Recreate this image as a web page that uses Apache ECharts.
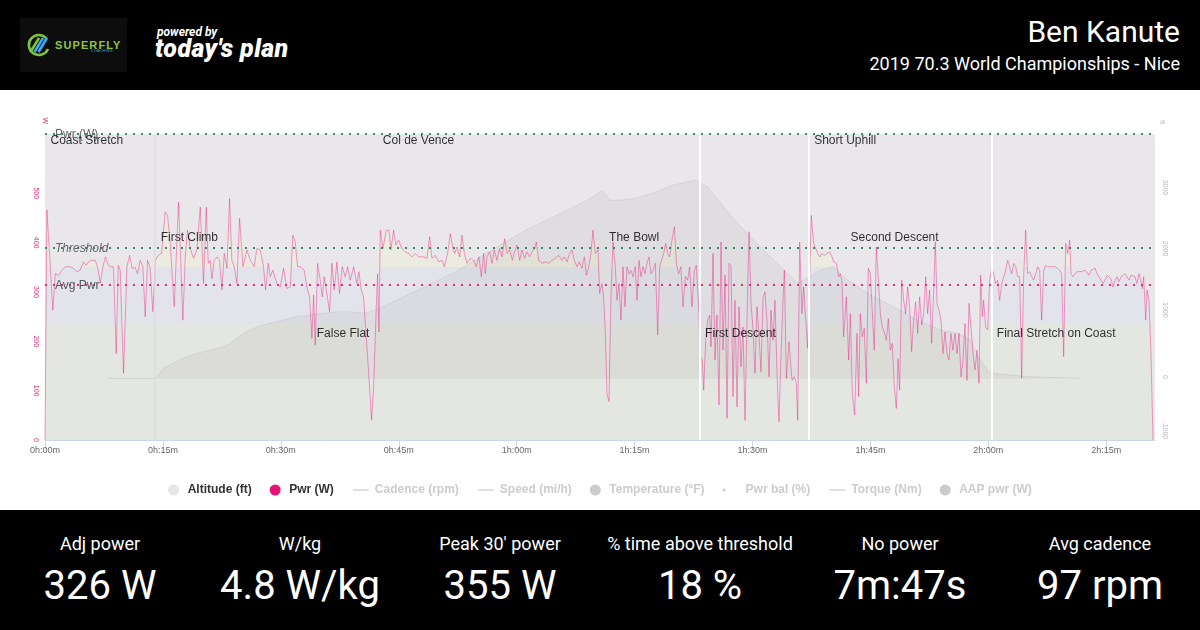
<!DOCTYPE html>
<html>
<head>
<meta charset="utf-8">
<script src="https://cdn.jsdelivr.net/npm/echarts@6/dist/echarts.min.js"></script>
<style>
html,body{margin:0;padding:0;width:1200px;height:630px;overflow:hidden;background:#fff;font-family:Roboto,'Liberation Sans',Arial,sans-serif;}
#header{position:absolute;left:0;top:0;width:1200px;height:90px;background:#000;}
#chart{position:absolute;left:0;top:90px;width:1200px;height:420px;background:#fff;}
#footer{position:absolute;left:0;top:510px;width:1200px;height:120px;background:#000;color:#fff;}
.stat{position:absolute;top:0;width:200px;height:120px;}
.stat .lab{position:absolute;left:0;top:23px;width:200px;text-align:center;font-size:18px;line-height:22px;}
.stat .val{position:absolute;left:0;top:53px;width:200px;text-align:center;font-size:40px;line-height:46px;}
#athlete{position:absolute;right:20px;top:14px;font-size:30px;line-height:36px;color:#fff;white-space:nowrap;}
#event{position:absolute;right:20px;top:53px;font-size:18px;line-height:22px;color:#fff;white-space:nowrap;}
#powered{position:absolute;left:157px;top:25px;font-size:12px;line-height:14px;font-weight:700;font-style:italic;color:#fff;white-space:nowrap;}
#tp{position:absolute;left:155px;top:35px;font-size:25px;line-height:28px;font-weight:900;font-style:italic;letter-spacing:0.4px;color:#fff;white-space:nowrap;}
</style>
</head>
<body>
<div id="header">
  <svg width="107" height="54" style="position:absolute;left:20px;top:18px" xmlns="http://www.w3.org/2000/svg">
    <rect width="107" height="54" fill="#0d0d0d"/>
    <path d="M26.5,20.5 A10,10 0 1,0 28,31" fill="none" stroke="#7cc143" stroke-width="2.6"/>
    <path d="M10.5,34 L19,20" stroke="#7cc143" stroke-width="2.6"/>
    <path d="M14.5,34 L23,20" stroke="#3fa9f5" stroke-width="2.6"/>
    <path d="M18.5,34 L27,20" stroke="#3fa9f5" stroke-width="2.6"/>
    <text x="35" y="30.5" font-family="'Liberation Sans',Arial,sans-serif" font-weight="bold" font-size="11" fill="#8dc63f" letter-spacing="1.1">SUPERFLY</text>
    <text x="71" y="34" font-family="'Liberation Sans',Arial,sans-serif" font-size="3.6" fill="#3fa9f5" letter-spacing="0.3">COACHING</text>
  </svg>
  <div id="powered">powered by</div>
  <div id="tp">today's plan</div>
  <div id="athlete">Ben Kanute</div>
  <div id="event">2019 70.3 World Championships - Nice</div>
</div>
<div id="chart"></div>
<div id="footer"></div>
<script>
// ---------- data ----------
const statLabels = ['Adj power', 'W/kg', "Peak 30' power", '% time above threshold', 'No power', 'Avg cadence'];
const statValues = ['326 W', '4.8 W/kg', '355 W', '18 %', '7m:47s', '97 rpm'];

const xTickValues = [0, 15, 30, 45, 60, 75, 90, 105, 120, 135];
const xTickLabels = ['0h:00m', '0h:15m', '0h:30m', '0h:45m', '1h:00m', '1h:15m', '1h:30m', '1h:45m', '2h:00m', '2h:15m'];
const rideMinutes = 141.2;
const pwrTicks = [0, 100, 200, 300, 400, 500];
const altTicks = [-1000, 0, 1000, 2000, 3000];
const pwrAxisMax = 620;
const altAxisMin = -1000;
const altAxisMax = 4000;
const threshold = 390;
const avgPwr = 314;

const segNames = ['Coast Stretch', 'First Climb', 'False Flat', 'Col de Vence', 'The Bowl', 'First Descent', 'Short Uphill', 'Second Descent', 'Final Stretch on Coast'];
const segStarts = [0, 14.02, 33.87, 42.27, 71.06, 83.27, 97.14, 101.77, 120.38];
const lapLines = [14.02, 83.27, 97.14, 120.38];

const legendNames = ['Altitude (ft)', 'Pwr (W)', 'Cadence (rpm)', 'Speed (mi/h)', 'Temperature (°F)', 'Pwr bal (%)', 'Torque (Nm)', 'AAP pwr (W)'];

// [minutes, ft]
const altPoints = [[7.91,8],[14.02,8],[14.27,34],[15.04,172],[16.31,253],[17.58,335],[19.36,417],[21.04,471],[22.67,525],[23.56,580],[25.22,743],[27.00,851],[28.65,907],[30.31,961],[32.08,1015],[33.74,1042],[35.39,1070],[37.17,1096],[38.83,1096],[40.48,1070],[41.37,1096],[43.03,1178],[44.81,1288],[46.46,1397],[47.74,1467],[51.93,1729],[56.26,2056],[60.46,2383],[64.66,2649],[68.98,2917],[70.89,3074],[71.91,2917],[73.18,2917],[75.34,2954],[77.38,3036],[79.92,3167],[81.70,3221],[82.72,3248],[84.25,3139],[85.90,2872],[88.07,2546],[90.10,2268],[92.27,1995],[94.43,1729],[95.71,1565],[97.35,1668],[98.63,1778],[100.28,1832],[101.55,1668],[104.61,1397],[107.92,1178],[110.97,961],[113.89,797],[116.06,748],[117.71,634],[118.98,307],[120.26,90],[122.80,62],[124.97,34],[131.71,8]];

// [minutes, W]
const pwrPoints = [[0,0],[0.24,466],[0.58,378],[1.00,263],[1.30,337],[1.72,334],[2.15,344],[2.57,351],[2.78,354],[3.21,351],[3.63,348],[4.05,341],[4.48,344],[4.90,361],[5.24,354],[5.54,361],[5.96,364],[6.39,364],[6.73,348],[7.02,317],[7.36,351],[7.70,371],[8.04,354],[8.38,351],[8.72,351],[9.06,175],[9.31,354],[9.57,344],[9.99,135],[10.42,351],[10.76,374],[11.09,347],[11.43,351],[11.77,337],[12.11,364],[12.45,351],[12.75,250],[13.04,364],[13.38,348],[13.72,260],[14.06,364],[14.40,374],[14.83,378],[15.08,381],[15.29,462],[15.59,455],[15.93,398],[16.44,270],[16.99,482],[17.54,243],[17.84,371],[18.13,425],[18.47,388],[18.90,368],[19.32,385],[19.75,472],[20.17,317],[20.51,472],[20.76,358],[21.02,364],[21.23,327],[21.53,364],[21.87,371],[22.21,364],[22.50,304],[22.80,378],[23.14,348],[23.48,489],[23.77,364],[24.07,351],[24.41,317],[24.75,449],[25.18,351],[25.68,385],[26.11,364],[26.61,351],[26.96,388],[27.38,385],[27.80,351],[28.06,304],[28.40,358],[28.65,331],[28.99,344],[29.50,317],[29.92,310],[30.35,348],[30.77,307],[31.20,310],[31.53,415],[31.83,401],[32.13,351],[32.55,351],[32.98,344],[33.32,310],[33.66,290],[33.95,206],[34.17,294],[34.38,192],[34.67,358],[35.01,324],[35.27,290],[35.52,331],[35.86,297],[36.20,260],[36.50,358],[36.79,304],[37.13,361],[37.47,297],[37.81,351],[38.19,331],[38.49,351],[38.83,324],[39.26,351],[39.68,317],[39.93,341],[40.23,304],[40.53,290],[40.95,189],[41.29,108],[41.54,40],[41.80,108],[42.14,270],[42.31,337],[42.48,219],[42.65,425],[42.99,388],[43.41,425],[43.75,425],[44.00,385],[44.34,425],[44.64,395],[44.98,405],[45.40,388],[45.83,381],[46.25,378],[46.67,371],[47.10,378],[47.52,371],[48.16,371],[48.59,368],[48.93,412],[49.22,368],[49.65,374],[50.07,361],[50.50,364],[50.79,351],[51.22,378],[51.56,418],[51.85,391],[52.11,378],[52.40,391],[52.74,371],[53.04,415],[53.34,378],[53.68,358],[54.10,368],[54.53,364],[54.86,351],[55.20,371],[55.50,331],[55.80,378],[56.01,337],[56.22,371],[56.56,381],[56.86,358],[57.15,385],[57.49,364],[57.83,388],[58.13,371],[58.47,408],[58.77,378],[59.11,385],[59.45,364],[59.74,381],[60.04,395],[60.38,364],[60.67,385],[61.01,368],[61.31,381],[61.65,371],[61.95,381],[62.29,388],[62.50,401],[62.80,364],[63.22,358],[63.64,361],[64.07,358],[64.49,364],[64.92,368],[65.34,374],[65.76,364],[66.06,371],[66.40,361],[66.74,378],[67.04,385],[67.33,364],[67.67,351],[67.97,361],[68.31,348],[68.61,371],[68.86,334],[69.16,351],[69.45,378],[69.71,425],[70.00,378],[70.34,385],[70.56,297],[70.85,317],[71.06,290],[71.28,216],[71.49,94],[71.74,78],[72.00,297],[72.25,401],[72.55,351],[72.76,283],[73.01,317],[73.27,243],[73.52,351],[73.78,270],[74.03,351],[74.29,337],[74.54,344],[74.80,331],[75.09,351],[75.31,283],[75.56,364],[75.81,331],[76.07,351],[76.32,337],[76.58,358],[76.83,371],[77.09,337],[77.34,344],[77.64,358],[77.94,213],[78.19,351],[78.44,364],[78.70,378],[78.95,398],[79.21,378],[79.46,371],[79.76,405],[80.06,432],[80.31,358],[80.61,337],[80.90,351],[81.16,270],[81.46,331],[81.75,324],[82.01,351],[82.30,270],[82.60,344],[82.85,354],[83.15,270],[83.36,169],[83.62,162],[83.79,101],[84.04,202],[84.30,243],[84.55,253],[84.72,189],[84.98,378],[85.23,162],[85.48,253],[85.74,71],[85.99,401],[86.25,182],[86.50,334],[86.76,44],[87.01,358],[87.27,354],[87.52,88],[87.77,283],[88.03,67],[88.28,270],[88.54,148],[88.79,229],[89.05,40],[89.30,250],[89.56,422],[89.81,277],[90.06,226],[90.32,135],[90.57,270],[90.83,213],[91.08,138],[91.34,290],[91.59,300],[91.84,243],[92.10,128],[92.35,263],[92.61,202],[92.86,283],[93.12,135],[93.37,37],[93.63,175],[93.88,283],[94.05,344],[94.31,125],[94.64,199],[95.03,121],[95.32,128],[95.58,115],[95.75,40],[96.00,401],[96.29,256],[96.50,310],[96.72,307],[97.01,186],[97.48,455],[97.78,398],[97.99,401],[98.29,378],[98.54,371],[98.84,378],[99.13,374],[99.47,378],[99.81,381],[100.11,371],[100.32,361],[100.66,358],[100.96,331],[101.17,337],[101.38,324],[101.59,209],[101.93,290],[102.23,162],[102.44,256],[102.70,94],[102.99,51],[103.29,216],[103.50,88],[103.71,256],[103.97,209],[104.22,226],[104.48,115],[104.73,348],[104.99,337],[105.24,337],[105.49,182],[105.75,391],[106.00,331],[106.26,256],[106.51,229],[106.77,219],[107.02,202],[107.28,246],[107.53,182],[107.78,196],[108.04,108],[108.29,64],[108.51,165],[108.72,101],[108.97,324],[109.23,283],[109.48,256],[109.74,310],[109.99,270],[110.24,179],[110.50,243],[110.75,280],[111.01,216],[111.26,290],[111.52,233],[111.77,256],[112.03,331],[112.28,256],[112.53,304],[112.79,196],[113.04,300],[113.26,401],[113.47,277],[113.72,263],[113.98,243],[114.23,175],[114.49,219],[114.74,175],[114.99,162],[115.25,216],[115.50,182],[115.76,216],[116.01,175],[116.27,216],[116.52,128],[116.78,162],[117.03,236],[117.28,121],[117.54,277],[117.79,229],[118.05,175],[118.30,142],[118.56,182],[118.81,115],[119.02,334],[119.24,250],[119.40,283],[119.66,229],[119.91,223],[120.17,324],[120.42,348],[120.68,337],[120.93,317],[121.19,324],[121.44,283],[121.70,317],[121.95,331],[122.20,344],[122.46,364],[122.71,351],[122.97,337],[123.22,358],[123.48,351],[123.73,331],[123.99,331],[124.24,125],[124.49,331],[124.75,425],[125.00,337],[125.26,341],[125.51,331],[125.77,324],[126.02,337],[126.28,351],[126.53,344],[126.78,243],[127.04,344],[127.29,354],[127.55,351],[127.80,351],[128.06,351],[128.31,348],[128.57,351],[128.82,351],[129.07,344],[129.33,337],[129.58,169],[129.84,398],[130.09,378],[130.35,405],[130.52,337],[130.77,331],[131.02,337],[131.28,341],[131.53,337],[131.79,341],[132.04,337],[132.30,344],[132.55,341],[132.81,334],[133.06,344],[133.31,341],[133.57,348],[133.82,337],[134.08,331],[134.33,331],[134.59,317],[134.84,324],[135.10,334],[135.35,331],[135.60,327],[135.86,310],[136.11,324],[136.37,331],[136.62,321],[136.88,331],[137.13,327],[137.39,337],[137.64,334],[137.90,324],[138.15,334],[138.40,331],[138.66,331],[138.91,317],[139.17,337],[139.34,327],[139.59,307],[139.76,331],[140.02,243],[140.19,304],[140.44,283],[140.69,175],[140.95,0]];

// ---------- footer ----------
const footer = document.getElementById('footer');
statLabels.forEach((lab, i) => {
  const d = document.createElement('div');
  d.className = 'stat';
  d.style.left = (i * 200) + 'px';
  const l = document.createElement('div'); l.className = 'lab'; l.textContent = lab;
  const v = document.createElement('div'); v.className = 'val'; v.textContent = statValues[i];
  d.appendChild(l); d.appendChild(v);
  footer.appendChild(d);
});

// ---------- chart ----------
const FONT = "'Liberation Sans', Arial, sans-serif";
const PINK = '#e8127a';
const GREEN_DOT = '#2f8f66';
const PINK_DOT = '#d9307c';
const linePath = 'path://M0,0 M18,11 M1,4.9 L17,4.9 L17,6.1 L1,6.1 Z';
const dotPath = 'path://M0,0 M18,11 M0,5.5 A1.6,1.6 0 1,0 3.2,5.5 A1.6,1.6 0 1,0 0,5.5 Z';
const legendIcons = ['circle', 'circle', linePath, linePath, 'circle', dotPath, linePath, 'circle'];
const rowLevels = [606, 410, 216];
const dotted = (c) => ({ color: c, type: [2, 6], width: 2 });

const chart = echarts.init(document.getElementById('chart'));
const hiddenSeries = legendNames.slice(2).map(n => ({
  name: n, type: 'line', data: [], symbol: 'none',
  itemStyle: { color: '#888' }, lineStyle: { color: '#888' }
}));
const selected = {};
legendNames.forEach((n, i) => { selected[n] = i < 2; });

chart.setOption({
  animation: false,
  textStyle: { fontFamily: FONT },
  grid: { left: 45, right: 45, top: 44, bottom: 70, show: true, backgroundColor: '#eae7ea', borderWidth: 0 },
  legend: {
    top: 389, left: 'center', itemWidth: 18, itemHeight: 11, itemGap: 18,
    selectedMode: false,
    textStyle: { fontSize: 12, fontWeight: 'bold', color: '#333', fontFamily: FONT },
    inactiveColor: '#cccccc',
    selected: selected,
    data: legendNames.map((n, i) => ({ name: n, icon: legendIcons[i] }))
  },
  visualMap: {
    type: 'piecewise', show: false, seriesIndex: 0, dimension: 1,
    pieces: [
      { lt: 235, color: '#e4e6e1' },
      { gte: 235, lt: 350, color: '#e3e4eb' },
      { gte: 350, color: '#ecebdf' }
    ]
  },
  xAxis: {
    type: 'value', min: 0, max: rideMinutes, interval: 15,
    axisLine: { show: true, lineStyle: { color: '#ccd6eb' } },
    axisTick: { show: true, length: 10, lineStyle: { color: '#ccd6eb' }, customValues: xTickValues },
    axisLabel: {
      customValues: xTickValues, fontSize: 9, color: '#666', margin: 6,
      formatter: v => { const k = xTickValues.indexOf(v); return k >= 0 ? xTickLabels[k] : ''; }
    },
    splitLine: { show: false }
  },
  yAxis: [
    {
      type: 'value', min: 0, max: pwrAxisMax, interval: 100, offset: 8,
      name: 'W', nameLocation: 'end', nameGap: 10, nameRotate: -90,
      nameTextStyle: { color: PINK_DOT, fontSize: 7 },
      axisLine: { show: false }, axisTick: { show: false }, splitLine: { show: false },
      axisLabel: { customValues: pwrTicks, rotate: -90, fontSize: 7, color: PINK_DOT, margin: -2 }
    },
    {
      type: 'value', min: altAxisMin, max: altAxisMax, interval: 1000, position: 'right', offset: 7,
      name: 'ft', nameLocation: 'end', nameGap: 10, nameRotate: -90,
      nameTextStyle: { color: '#bbbbbb', fontSize: 7 },
      axisLine: { show: false }, axisTick: { show: false }, splitLine: { show: false },
      axisLabel: {
        customValues: altTicks, rotate: -90, fontSize: 7, color: '#bbbbbb', margin: -1,
        formatter: v => String(v) + '\u2007'.repeat(String(v).length)
      }
    }
  ],
  series: [
    {
      name: 'pwrZones', type: 'line', data: pwrPoints, symbol: 'none', silent: true, z: 1,
      lineStyle: { width: 0, opacity: 0 }, areaStyle: { opacity: 1 }
    },
    {
      name: 'Altitude (ft)', type: 'line', yAxisIndex: 1, data: altPoints, symbol: 'none', silent: true, z: 2,
      itemStyle: { color: '#e6e6e6' },
      lineStyle: { color: 'rgba(150,145,150,0.18)', width: 1 },
      areaStyle: { color: 'rgba(150,145,150,0.11)', opacity: 1 },
      markLine: {
        silent: true, symbol: ['none', 'none'], label: { show: false },
        data: lapLines.map((t, i) => ({
          xAxis: t,
          lineStyle: { color: i === 0 ? '#dddbdd' : '#ffffff', width: i === 0 ? 1.5 : 2, type: 'solid', opacity: 0.9 }
        }))
      }
    },
    {
      name: 'Pwr (W)', type: 'line', data: pwrPoints, symbol: 'none', silent: true, z: 3,
      itemStyle: { color: PINK },
      lineStyle: { color: PINK, opacity: 0.4, width: 1 },
      markLine: {
        silent: true, symbol: ['none', 'none'],
        label: { show: true, position: 'insideStartTop', distance: [10, -7], fontSize: 12, fontFamily: FONT, color: '#666' },
        data: [
          { yAxis: pwrAxisMax, lineStyle: dotted(GREEN_DOT), label: { formatter: 'Pwr (W)', color: '#666' } },
          { yAxis: threshold, lineStyle: dotted(GREEN_DOT), label: { formatter: 'Threshold', fontStyle: 'italic', color: '#666' } },
          { yAxis: avgPwr, lineStyle: dotted(PINK_DOT), label: { formatter: 'Avg Pwr', color: '#555' } }
        ]
      }
    },
    {
      name: 'segments', type: 'scatter', symbolSize: 1, silent: true, z: 5,
      itemStyle: { color: 'rgba(0,0,0,0)' },
      data: segStarts.map((t, i) => ({ value: [t, rowLevels[i % 3]], name: segNames[i] })),
      label: { show: true, position: 'right', distance: 5, formatter: '{b}', color: '#000', fontSize: 12, fontFamily: FONT }
    }
  ].concat(hiddenSeries)
});
</script>
</body>
</html>
